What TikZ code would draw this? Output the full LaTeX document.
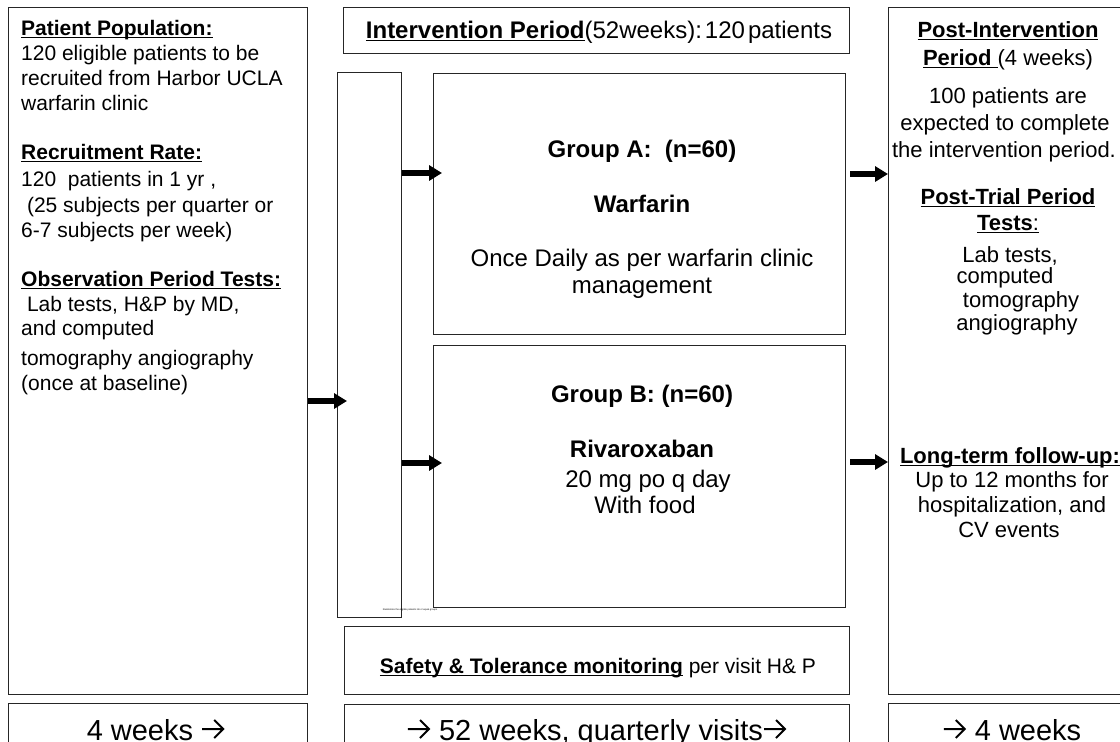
\documentclass[tikz,border=0pt]{standalone}
\usepackage{fontspec}
\setmainfont{Liberation Sans}
\usetikzlibrary{arrows.meta}
\newcommand{\myul}[1]{\leavevmode\setbox0=\hbox{#1}\rlap{\rule[-3pt]{\wd0}{1.4pt}}\box0}
\newcommand{\rar}{\tikz[baseline=0pt,x=1pt,y=1pt]{\path (0,0) -- (24,0);\draw[line width=2pt,line cap=butt,line join=miter] (1,11) -- (22,11) (13,20) -- (22,11) -- (13,2);}}
\begin{document}
\begin{tikzpicture}[x=1pt,y=-1pt,
  box/.style={draw=black!85,line width=1.2pt,inner sep=0,anchor=north west},
  lt/.style={inner sep=0,anchor=base west,font=\fontsize{21}{25}\selectfont},
  ct/.style={inner sep=0,anchor=base,font=\fontsize{24}{28}\selectfont},
  rt/.style={inner sep=0,anchor=base,font=\fontsize{22}{26}\selectfont},
  st/.style={inner sep=0,anchor=base,font=\fontsize{21}{25}\selectfont},
  bt/.style={inner sep=0,anchor=base,font=\fontsize{29}{33}\selectfont},
  big/.style={-{Triangle[length=13pt,width=15pt]},line width=5.5pt}]
\useasboundingbox (0,0) rectangle (1120,742);
\clip (0,0) rectangle (1120,742);
% boxes
\node[box,minimum width=299pt,minimum height=687pt] (pop) at (8,7) {};
\node[box,minimum width=506pt,minimum height=46pt] (hdr) at (343,7) {};
\node[box,minimum width=64pt,minimum height=545pt] (rand) at (337,72) {};
\node[box,minimum width=412pt,minimum height=261pt] (grpA) at (433,73) {};
\node[box,minimum width=412pt,minimum height=262pt] (grpB) at (433,345) {};
\node[box,minimum width=505pt,minimum height=68pt] (safe) at (344,626) {};
\node[box,minimum width=238pt,minimum height=687pt] (post) at (888,7) {};
\node[box,minimum width=299pt,minimum height=60pt] (bl) at (8,703) {};
\node[box,minimum width=505pt,minimum height=60pt] (bm) at (344,704) {};
\node[box,minimum width=238pt,minimum height=60pt] (br) at (888,703) {};
% arrows
\coordinate (y0) at (0,401);
\coordinate (yA) at (0,173);
\coordinate (yB) at (0,463);
\coordinate (yC) at (0,174);
\coordinate (yD) at (0,462);
\draw[big] (pop.east |- y0) -- ([xshift=10pt]rand.west |- y0);
\draw[big] (rand.east |- yA) -- ([xshift=9pt]grpA.west |- yA);
\draw[big] (rand.east |- yB) -- ([xshift=9pt]grpB.west |- yB);
\draw[big] ([xshift=4pt]grpA.east |- yC) -- (post.west |- yC);
\draw[big] ([xshift=4pt]grpB.east |- yD) -- (post.west |- yD);
% left texts
\node[lt] (l1) at (21,35) {\bfseries\myul{Patient Population:}};
\node[lt] (l2) at (21,60) {120 eligible patients to be};
\node[lt] (l3) at (21,85) {recruited from Harbor UCLA};
\node[lt] (l4) at (21,110) {warfarin clinic};
\node[lt] (l5) at (21,159) {\bfseries\myul{Recruitment Rate:}};
\node[lt] (l6) at (21,186) {120\ \ patients in 1 yr ,};
\node[lt] (l7) at (21,212) {\ (25 subjects per quarter or};
\node[lt] (l8) at (21,237) {6-7 subjects per week)};
\node[lt] (l9) at (21,286) {\bfseries\myul{Observation Period Tests:}};
\node[lt] (l10) at (21,311) {\ Lab tests, H\&P by MD,};
\node[lt] (l11) at (21,335) {and computed};
\node[lt] (l12) at (21,365) {tomography angiography};
\node[lt] (l13) at (21,390) {(once at baseline)};
% header
\node[ct] (h1) at (599,38) {\bfseries\myul{Intervention Period}\mdseries(52weeks):\kern3pt120\kern3pt patients};
% group A
\node[ct] (a1) at (642,157) {\bfseries Group A:\ \ (n=60)};
\node[ct] (a2) at (642,212) {\bfseries Warfarin};
\node[ct] (a3) at (642,266) {Once Daily as per warfarin clinic};
\node[ct] (a4) at (642,293) {management};
% group B
\node[ct] (b1) at (642,402) {\bfseries Group B: (n=60)};
\node[ct] (b2) at (642,457) {\bfseries Rivaroxaban};
\node[ct] (b3) at (648,487) {20 mg po q day};
\node[ct] (b4) at (645,513) {With food};
% tiny text
\node[inner sep=0,font=\fontsize{2.4}{3}\selectfont] (tiny) at (410,610) {Randomize the eligible patients into 2 equal groups};
% safety
\node[st] (s1) at (598,673) {\bfseries\myul{Safety \& Tolerance monitoring}\mdseries\ per visit H\& P};
% right texts
\node[rt] (r1) at (1008,37) {\bfseries\myul{Post-Intervention}};
\node[rt] (r2) at (1008,65) {\bfseries\myul{Period\ }\mdseries(4 weeks)};
\node[rt] (r3) at (1008,103) {100 patients are};
\node[rt] (r4) at (1005,130) {expected to complete};
\node[rt] (r5) at (1004,157) {the intervention period.};
\node[rt] (r6) at (1008,204) {\bfseries\myul{Post-Trial Period}};
\node[rt] (r7) at (1008,230) {\myul{\bfseries Tests\mdseries:}};
\node[rt] (r8) at (1010,262) {Lab tests,};
\node[rt] (r9) at (1005,283) {computed};
\node[rt] (r10) at (1021,307) {tomography};
\node[rt] (r11) at (1017,330) {angiography};
\node[rt] (r12) at (1010,463) {\bfseries\myul{Long-term follow-up:}};
\node[rt] (r13) at (1012,487) {Up to 12 months for};
\node[rt] (r14) at (1012,512) {hospitalization, and};
\node[rt] (r15) at (1009,537) {CV events};
% bottom
\node[bt] (w1) at (156,740) {4 weeks \rar};
\node[bt] (w2) at (597,740) {\rar\ 52 weeks, quarterly visits\rar};
\node[bt] (w3) at (1012,740) {\rar\ 4 weeks};
\end{tikzpicture}
\end{document}
